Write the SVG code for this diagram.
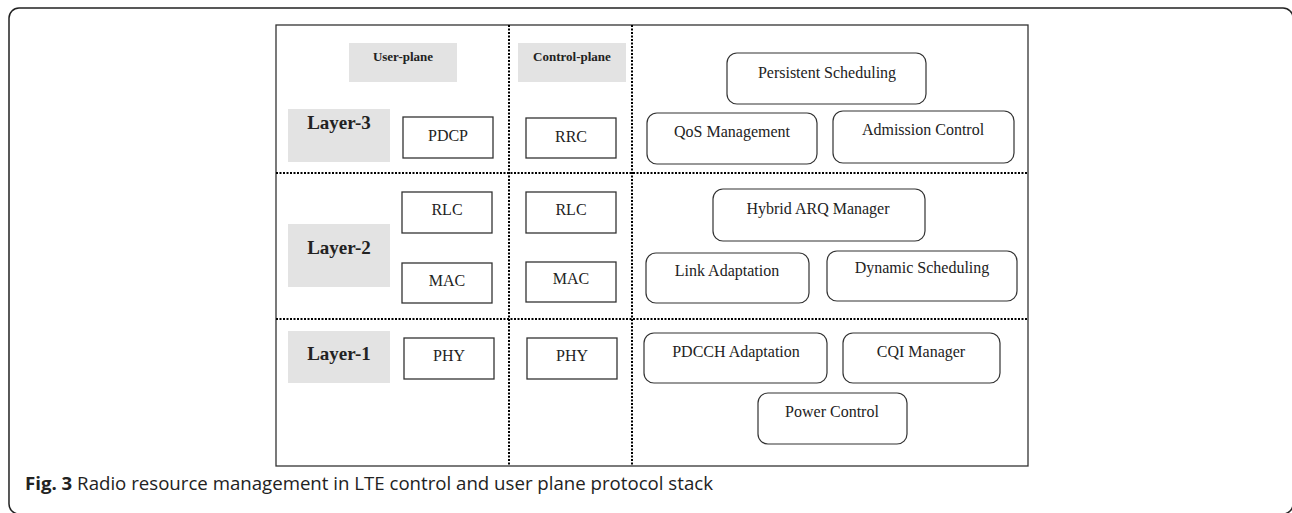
<svg xmlns="http://www.w3.org/2000/svg" width="1292" height="513" viewBox="0 0 1292 513">
<style>
.frame{fill:none;stroke:#222;stroke-width:1.5}
.outer{fill:none;stroke:#333;stroke-width:1.3}
.dot{stroke:#000;stroke-width:2;stroke-dasharray:2 1.5;fill:none}
.gray{fill:#e3e3e3}
.box{fill:#fff;stroke:#333;stroke-width:1.3}
.rbox{fill:#fff;stroke:#333;stroke-width:1.2}
.t{font-family:"Liberation Serif","Times New Roman",serif;font-size:16px;fill:#222;text-anchor:middle}
.hd{font-family:"Liberation Serif","Times New Roman",serif;font-size:13px;font-weight:bold;fill:#222;text-anchor:middle}
.ly{font-family:"Liberation Serif","Times New Roman",serif;font-size:19px;font-weight:bold;fill:#222;text-anchor:middle}
.cap{font-family:"Open Sans","Noto Sans",sans-serif;font-size:18px;fill:#222}
</style>
<rect class="frame" x="9" y="8" width="1284" height="506" rx="10"/>
<rect class="outer" x="276" y="25" width="752" height="441"/>
<g id="connectors">
<line class="dot" x1="509" y1="25" x2="509" y2="466"/>
<line class="dot" x1="632" y1="25" x2="632" y2="466"/>
<line class="dot" x1="276" y1="173" x2="1028" y2="173"/>
<line class="dot" x1="276" y1="319" x2="1028" y2="319"/>
</g>
<g id="user-plane"><rect class="gray" x="349" y="43" width="108" height="39"/><text class="hd" x="403" y="61">User-plane</text></g>
<g id="control-plane"><rect class="gray" x="518" y="43" width="108" height="39"/><text class="hd" x="572" y="61">Control-plane</text></g>
<g id="layer3"><rect class="gray" x="288" y="109" width="102" height="53"/><text class="ly" x="339" y="129">Layer-3</text></g>
<g id="layer2"><rect class="gray" x="288" y="224" width="102" height="63"/><text class="ly" x="339" y="254">Layer-2</text></g>
<g id="layer1"><rect class="gray" x="288" y="331" width="102" height="52"/><text class="ly" x="339" y="360">Layer-1</text></g>
<g id="pdcp"><rect class="box" x="403" y="117" width="90" height="41"/><text class="t" x="448" y="141">PDCP</text></g>
<g id="rrc"><rect class="box" x="526" y="118" width="90" height="40"/><text class="t" x="571" y="142">RRC</text></g>
<g id="rlc-u"><rect class="box" x="402" y="192" width="90" height="41"/><text class="t" x="447" y="215">RLC</text></g>
<g id="mac-u"><rect class="box" x="402" y="263" width="90" height="40"/><text class="t" x="447" y="286">MAC</text></g>
<g id="rlc-c"><rect class="box" x="526" y="192" width="90" height="41"/><text class="t" x="571" y="215">RLC</text></g>
<g id="mac-c"><rect class="box" x="526" y="262" width="90" height="40"/><text class="t" x="571" y="284">MAC</text></g>
<g id="phy-u"><rect class="box" x="404" y="338" width="90" height="41"/><text class="t" x="449" y="361">PHY</text></g>
<g id="phy-c"><rect class="box" x="527" y="338" width="90" height="41"/><text class="t" x="572" y="361">PHY</text></g>
<g id="persistent"><rect class="rbox" x="727" y="53" width="199" height="51" rx="10"/><text class="t" x="827" y="78">Persistent Scheduling</text></g>
<g id="qos"><rect class="rbox" x="647" y="113" width="170" height="51" rx="10"/><text class="t" x="732" y="137">QoS Management</text></g>
<g id="admission"><rect class="rbox" x="833" y="111" width="181" height="52" rx="10"/><text class="t" x="923" y="135">Admission Control</text></g>
<g id="harq"><rect class="rbox" x="713" y="189" width="212" height="52" rx="10"/><text class="t" x="818" y="214">Hybrid ARQ Manager</text></g>
<g id="link"><rect class="rbox" x="646" y="253" width="163" height="50" rx="10"/><text class="t" x="727" y="276">Link Adaptation</text></g>
<g id="dynamic"><rect class="rbox" x="827" y="251" width="190" height="50" rx="10"/><text class="t" x="922" y="273">Dynamic Scheduling</text></g>
<g id="pdcch"><rect class="rbox" x="644" y="333" width="183" height="50" rx="10"/><text class="t" x="736" y="357">PDCCH Adaptation</text></g>
<g id="cqi"><rect class="rbox" x="843" y="333" width="157" height="50" rx="10"/><text class="t" x="921" y="357">CQI Manager</text></g>
<g id="power"><rect class="rbox" x="758" y="393" width="149" height="51" rx="10"/><text class="t" x="832" y="417">Power Control</text></g>
<text class="cap" x="25" y="490" textLength="688" lengthAdjust="spacingAndGlyphs"><tspan font-weight="bold">Fig. 3</tspan> Radio resource management in LTE control and user plane protocol stack</text>
</svg>
